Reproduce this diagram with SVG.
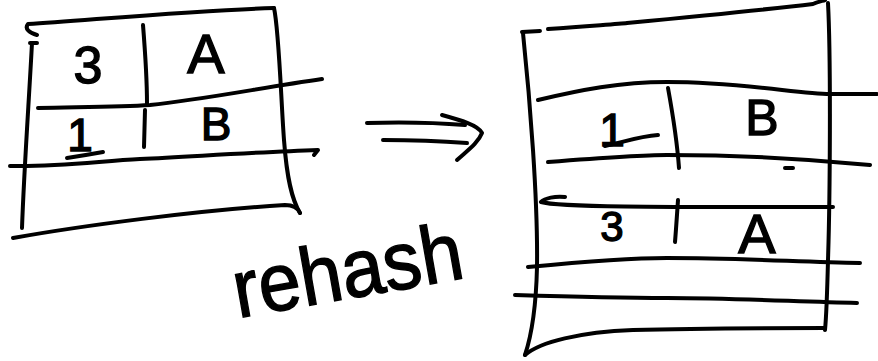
<svg xmlns="http://www.w3.org/2000/svg" width="878" height="361" viewBox="0 0 878 361">
<style>
.s{fill:none;stroke:#000;stroke-width:4;stroke-linecap:round;stroke-linejoin:round}
.t{font-family:"Liberation Sans","DejaVu Sans",sans-serif;fill:#000;stroke:#000;stroke-width:1.4;text-anchor:middle}
.l{text-anchor:start}
</style>
<rect width="878" height="361" fill="#fff"/>
<g id="left-table">
<path class="s" d="M37,35 C30,33 24,29 28,24 C90,20 200,10 274,8"/>
<path class="s" d="M274,8 C279,30 281,100 284,140 C287,180 292,200 300,213"/>
<path class="s" d="M13,238 C80,226 200,210 285,205 C294,205 298,208 300,213"/>
<path class="s" d="M30,43 L37,43 M32,43 C29,100 24,170 22,228"/>
<path class="s" d="M38,108 C80,107 120,107 150,105 C200,100 260,88 322,79"/>
<path class="s" d="M10,166 C60,167 100,161 140,159 C200,156 260,152 318,150 L314,155"/>
<path class="s" d="M143,25 C145,50 147,80 147,104 M145,110 L144,147"/>
<text class="t" x="88" y="83" font-size="52">3</text>
<text class="t" x="206" y="73" font-size="56">A</text>
<text class="t" x="80" y="151" font-size="46">1</text>
<path class="s" d="M67,158 C80,156 92,154 103,152"/>
<text class="t" x="216" y="140" font-size="46">B</text>
</g>
<g id="connectors">
<path class="s" d="M367,123 C400,122 440,123 465,125"/>
<path class="s" d="M383,140 C410,140 440,141 467,143"/>
<path class="s" d="M442,115 C460,120 478,125 482,133 C478,143 468,150 457,160"/>
</g>
<g id="label-rehash">
<text class="t l" x="238" y="318" font-size="82" textLength="232" lengthAdjust="spacingAndGlyphs" transform="rotate(-10 238 318)">rehash</text>
</g>
<g id="right-table">
<path class="s" d="M522,32 L540,31 M548,29 C600,25 620,24 627,23 C700,16 780,8 813,4 C818,2 822,1 825,0"/>
<path class="s" d="M523,33 C530,100 538,200 537,267 C536,310 530,340 525,355"/>
<path class="s" d="M828,3 C831,60 830,200 828,260 C827,300 826,320 825,330"/>
<path class="s" d="M525,355 C540,342 580,332 633,330 C700,328 780,328 825,328"/>
<path class="s" d="M538,100 C580,90 620,82 667,82 C740,82 800,94 830,94 C850,94 865,94 877,94"/>
<path class="s" d="M548,162 C600,158 640,155 667,155 C740,155 800,158 870,165"/>
<path class="s" d="M785,168 L793,168"/>
<path class="s" d="M565,197 C555,196 545,198 541,202 C560,208 700,207 833,207"/>
<path class="s" d="M528,267 C580,262 630,258 667,258 C740,258 800,262 860,263"/>
<path class="s" d="M515,295 C580,297 630,298 667,298 C740,298 800,302 857,303"/>
<path class="s" d="M668,88 C672,110 677,140 679,168"/>
<path class="s" d="M678,200 C677,215 676,230 675,242"/>
<text class="t" x="612" y="146" font-size="46">1</text>
<path class="s" d="M605,146 C620,143 640,136 658,135"/>
<text class="t" x="762" y="135" font-size="50">B</text>
<text class="t" x="612" y="241" font-size="42">3</text>
<text class="t" x="757" y="253" font-size="56">A</text>
</g>
</svg>
